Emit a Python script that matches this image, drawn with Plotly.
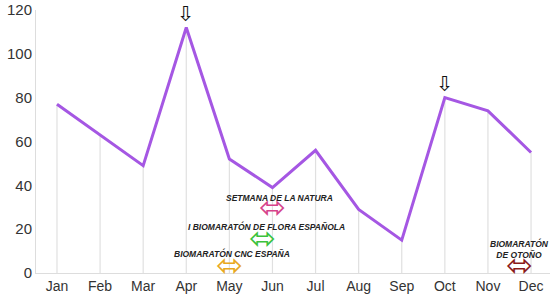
import plotly.graph_objects as go

months = ["Jan", "Feb", "Mar", "Apr", "May", "Jun", "Jul", "Aug", "Sep", "Oct", "Nov", "Dec"]
values = [77, 63, 49, 112, 52, 39, 56, 29, 15, 80, 74, 55]
y_ticks = [0, 20, 40, 60, 80, 100, 120]
event_labels = ["SETMANA DE LA NATURA", "I BIOMARATÓN DE FLORA ESPAÑOLA",
                "BIOMARATÓN CNC ESPAÑA", "BIOMARATÓN<br>DE OTOÑO"]

xs = list(range(len(months)))
FONT = "Liberation Sans, Arial, sans-serif"

fig = go.Figure()
# drop lines
fig.add_trace(go.Scatter(
    x=xs, y=values, mode="markers", marker=dict(size=1, color="rgba(0,0,0,0)"),
    error_y=dict(type="data", symmetric=False, array=[0] * len(values), arrayminus=values,
                 color="#e0e0e0", thickness=1.2, width=0),
    hoverinfo="skip", showlegend=False))
fig.add_trace(go.Scatter(
    x=xs, y=values, mode="lines", line=dict(color="#a557e3", width=3),
    showlegend=False))

ann = []
# down arrows at peaks
for i in (3, 9):
    ann.append(dict(x=i, y=values[i], text="⇩", showarrow=False, yanchor="bottom",
                    yshift=0, font=dict(size=21, color="#111", family="DejaVu Sans")))

txt = dict(family=FONT, size=8.5, color="#222")
ann += [
    dict(x=5.16, y=34.2, text="<b><i>" + event_labels[0] + "</i></b>", showarrow=False, font=txt),
    dict(x=4.85, y=21, text="<b><i>" + event_labels[1] + "</i></b>", showarrow=False, font=txt),
    dict(x=4.06, y=8.7, text="<b><i>" + event_labels[2] + "</i></b>", showarrow=False, font=txt),
    dict(x=10.74, y=11, text="<b><i>" + event_labels[3] + "</i></b>", showarrow=False, font=txt,
         align="center"),
]
arrow_specs = [(5.01, 30, "#d6428a"), (4.78, 16, "#3cc23c"), (4.01, 3.6, "#e8a820"), (10.74, 3.6, "#8b1a1a")]
for x, y, c in arrow_specs:
    ann.append(dict(x=x, y=y, text="⬄", showarrow=False,
                    font=dict(size=32, color=c, family="DejaVu Sans")))

fig.update_layout(
    width=550, height=298,
    margin=dict(l=36, r=0, t=10, b=25),
    paper_bgcolor="white", plot_bgcolor="white",
    font=dict(family=FONT, size=14, color="#333"),
    annotations=ann,
    xaxis=dict(range=[-0.487, 11.44], tickvals=xs, ticktext=months, showgrid=False,
               zeroline=False, showline=True, linecolor="#dddddd", linewidth=1,
               ticks="", ticklen=0, automargin=False, tickfont=dict(size=14, color="#333")),
    yaxis=dict(range=[0, 120], tickvals=y_ticks, showgrid=False, zeroline=False,
               showline=True, linecolor="#dddddd", linewidth=1, ticks="", automargin=False,
               tickfont=dict(size=15, color="#333")),
)

fig.write_html("out.html", config={"displayModeBar": False},
               post_script="document.body.style.margin='0';document.body.style.overflow='hidden';")
